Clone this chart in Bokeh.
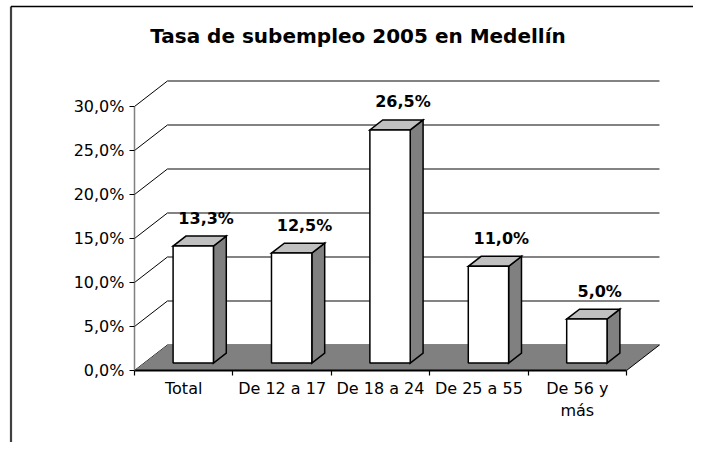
from bokeh.plotting import figure
from bokeh.models import Range1d, FixedTicker, LinearAxis, Label
from bokeh.embed import file_html
from bokeh.resources import INLINE
from bokeh.core.properties import value

# ---- data ----
categories = ["Total", "De 12 a 17", "De 18 a 24", "De 25 a 55", "De 56 y\nmás"]
rates = [13.3, 12.5, 26.5, 11.0, 5.0]
y_ticks = [0, 5, 10, 15, 20, 25, 30]
y_tick_labels = ["0,0%", "5,0%", "10,0%", "15,0%", "20,0%", "25,0%", "30,0%"]
title_text = "Tasa de subempleo 2005 en Medellín"

# ---- 3D projection style (axis units) ----
DX = 0.335      # depth shift along x (category units)
DY = 2.9        # depth shift along y (percent units)
W = 0.41        # bar width (category units)
F0, F1 = 0.29, 0.68   # bar front / back depth fractions

FONT = "DejaVu Sans"
n = len(categories)
y_max_tick = max(y_ticks)

# canvas geometry (pixels) -> axis ranges
CANVAS_W, CANVAS_H = 693, 442
ORIGIN_X, ORIGIN_Y = 134, 370          # where (0, 0%) falls on the canvas
PX_PER_CAT, PX_PER_PCT = 98.4, 8.8

x_range = Range1d(-ORIGIN_X / PX_PER_CAT, (CANVAS_W - ORIGIN_X) / PX_PER_CAT)
y_range = Range1d(-(CANVAS_H - ORIGIN_Y) / PX_PER_PCT, ORIGIN_Y / PX_PER_PCT)

p = figure(width=CANVAS_W, height=CANVAS_H, output_backend="svg",
           toolbar_location=None, x_range=x_range, y_range=y_range,
           x_axis_location=None, y_axis_location=None,
           min_border=0, min_border_left=0, min_border_right=0,
           min_border_top=0, min_border_bottom=0)
p.xgrid.visible = False
p.ygrid.visible = False
p.outline_line_color = None
p.background_fill_color = "white"
p.border_fill_color = "white"

# chart-area border (left and top edges visible in the picture)
x_left_border = x_range.start + 10.5 / PX_PER_CAT
y_top_border = y_range.end - 6 / PX_PER_PCT
p.segment(x0=[x_left_border], y0=[y_range.start], x1=[x_left_border], y1=[y_top_border],
          line_color="#404040", line_width=2.2)
p.segment(x0=[x_left_border], y0=[y_top_border], x1=[x_range.end], y1=[y_top_border],
          line_color="black", line_width=1.6)

# back-wall gridlines and side-wall diagonals
p.segment(x0=[DX] * len(y_ticks), y0=[t + DY for t in y_ticks],
          x1=[n + DX] * len(y_ticks), y1=[t + DY for t in y_ticks],
          line_color="#5a5a5a", line_width=1.6)
p.segment(x0=[0] * len(y_ticks), y0=y_ticks,
          x1=[DX] * len(y_ticks), y1=[t + DY for t in y_ticks],
          line_color="black", line_width=1)

# floor
p.patch(x=[0, n, n + DX, DX], y=[0, 0, DY, DY],
        fill_color="#808080", line_color=None)
p.segment(x0=[n], y0=[0], x1=[n + DX], y1=[DY], line_color="black", line_width=1)

# bars
front_l, front_r, front_b, front_t = [], [], [], []
side_xs, side_ys, top_xs, top_ys = [], [], [], []
for i, v in enumerate(rates):
    c = i + 0.5
    l0 = c - W / 2 + F0 * DX
    r0 = c + W / 2 + F0 * DX
    l1 = c - W / 2 + F1 * DX
    r1 = c + W / 2 + F1 * DX
    b0, b1 = F0 * DY, F1 * DY
    front_l.append(l0); front_r.append(r0)
    front_b.append(b0); front_t.append(v + b0)
    side_xs.append([r0, r1, r1, r0]); side_ys.append([b0, b1, v + b1, v + b0])
    top_xs.append([l0, r0, r1, l1]); top_ys.append([v + b0, v + b0, v + b1, v + b1])

p.patches(xs=side_xs, ys=side_ys, fill_color="#808080", line_color="black",
          line_width=1.5, line_join="miter")
p.patches(xs=top_xs, ys=top_ys, fill_color="#C0C0C0", line_color="black",
          line_width=1.5, line_join="miter")
p.quad(left=front_l, right=front_r, bottom=front_b, top=front_t,
       fill_color="white", line_color="black", line_width=1.5)

# data labels
lbl_x = [i + 0.5 + F1 * DX for i in range(n)]
lbl_y = [v + F1 * DY for v in rates]
lbl_t = [("%.1f" % v).replace(".", ",") + "%" for v in rates]
p.text(x=lbl_x, y=lbl_y, text=lbl_t, text_align="center", text_baseline="middle",
       y_offset=-18, text_font=value(FONT), text_font_style="bold",
       text_font_size="16px", text_color="black")

# title (centred on the chart area)
p.add_layout(Label(x=(357.5 - ORIGIN_X) / PX_PER_CAT, y=(ORIGIN_Y - 35) / PX_PER_PCT,
                   text=title_text, text_align="center", text_baseline="middle",
                   text_font=FONT, text_font_size="20px", text_font_style="bold",
                   text_color="black"))

# y axis
ya = LinearAxis(fixed_location=0)
ya.ticker = FixedTicker(ticks=y_ticks, minor_ticks=[])
ya.major_label_overrides = dict(zip(y_ticks, y_tick_labels))
ya.bounds = (0, y_max_tick)
ya.axis_line_color = "#808080"
ya.axis_line_width = 1.5
ya.major_tick_out = 5
ya.major_tick_in = 0
ya.major_tick_line_color = "black"
ya.minor_tick_out = 0
ya.minor_tick_in = 0
ya.major_label_standoff = 5
ya.major_label_text_font = FONT
ya.major_label_text_font_size = "16px"
ya.major_label_text_color = "black"
p.add_layout(ya, "left")

# x axis: labels at centres, ticks at boundaries
xa = LinearAxis(fixed_location=0)
centres = [i + 0.5 for i in range(n)]
xa.ticker = FixedTicker(ticks=centres, minor_ticks=list(range(n + 1)))
xa.major_label_overrides = dict(zip(centres, categories))
xa.bounds = (0, n)
xa.axis_line_color = "black"
xa.axis_line_width = 1.8
xa.major_tick_out = 0
xa.major_tick_in = 0
xa.minor_tick_out = 5
xa.minor_tick_in = 0
xa.minor_tick_line_color = "black"
xa.minor_tick_line_width = 1.2
xa.major_label_standoff = 3
xa.major_label_text_font = FONT
xa.major_label_text_font_size = "16px"
xa.major_label_text_color = "black"
p.add_layout(xa, "below")

open("out.html", "w").write(file_html(p, INLINE))
